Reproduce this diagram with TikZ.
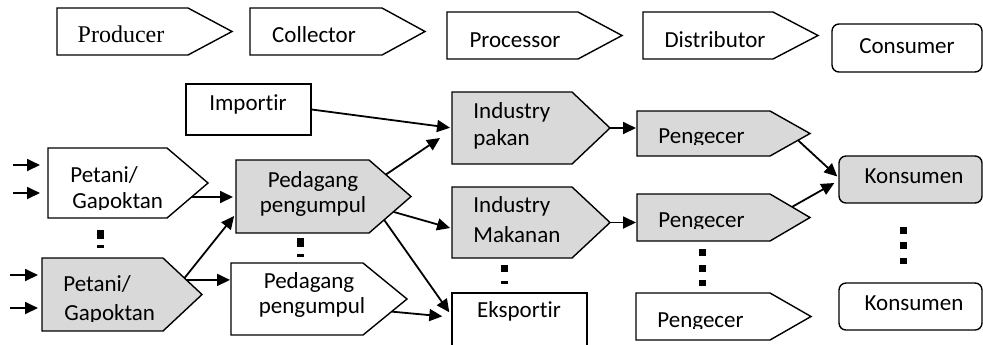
\documentclass[tikz,border=0pt]{standalone}
\usepackage{fontspec}
\setmainfont{Carlito}[Ligatures=NoCommon]
\newfontfamily\serifp{Liberation Serif}
\usetikzlibrary{arrows.meta,calc,fit}
\definecolor{boxgray}{HTML}{D9D9D9}
\tikzset{
  boxline/.style={draw=black, line width=0.7pt},
  graybox/.style={boxline, fill=boxgray},
  whitebox/.style={boxline, fill=white},
  body/.style={inner sep=0pt, outer sep=0pt, draw=none},
  lbl/.style={inner sep=0pt, font=\fontsize{11.5}{13}\selectfont, text=black},
  arr/.style={line width=0.9pt, -{Triangle[length=6.5pt,width=6pt]}},
  dotsq/.style={fill=black},
}
% pentagon (arrow-shaped) box: name, left, top, shoulder, tip, bottom, style
\newcommand\pentbox[7]{%
  \node[body, fit={(#2,#3) (#4,#6)}] (#1) {};
  \coordinate (#1-tip) at (#5,{(#3+#6)/2});
  \draw[#7] (#1.north west) -- (#1.north east) -- (#1-tip) -- (#1.south east) -- (#1.south west) -- cycle;
}
% text line cut just below its baseline: name, x, baseline y, text
\newcommand\cuttext[4]{%
  \begin{scope}
    \clip ({#2-4},{#3-30}) rectangle ({#2+160},{#3+1.5});
    \node[lbl, anchor=base west] (#1) at (#2,#3) {#4};
  \end{scope}
}
\begin{document}
\begin{tikzpicture}[x=0.5pt,y=-0.5pt]
\clip (0,0) rectangle (983,344);
\fill[white] (0,0) rectangle (983,344);

% ---- top row ----
\pentbox{prod}{57}{8}{188}{232}{55}{whitebox}
\node[lbl, font=\serifp\fontsize{12}{14}\selectfont, anchor=base] (prod-t) at (121,42) {Producer};
\pentbox{coll}{250}{8}{382}{425}{55}{whitebox}
\node[lbl, anchor=base] (coll-t) at (314,42) {Collector};
\pentbox{proc}{447}{12}{578}{622}{59}{whitebox}
\node[lbl, anchor=base] (proc-t) at (515,47) {Processor};
\pentbox{dist}{643}{12}{773}{818}{59}{whitebox}
\node[lbl, anchor=base] (dist-t) at (715,47) {Distributor};
\node[whitebox, rounded corners=3.5pt, inner sep=0pt, fit={(832,24) (982,72)}] (cons) {};
\node[lbl, anchor=base] (cons-t) at (907,53) {Consumer};

% ---- boxes ----
\node[whitebox, inner sep=0pt, fit={(186,84) (311,135)}] (imp) {};
\node[lbl, anchor=base] (imp-t) at (248,110) {Importir};

\pentbox{pet1}{48}{148}{167}{208}{218}{whitebox}
\node[lbl, anchor=base west] (pet1-t) at (70,182) {Petani/};
\cuttext{pet1-u}{72}{208}{Gapoktan}

\pentbox{pet2}{42}{258}{163}{202}{331}{graybox}
\node[lbl, anchor=base west] (pet2-t) at (63,291) {Petani/};
\cuttext{pet2-u}{64}{320}{Gapoktan}

\pentbox{ped1}{236}{160}{369}{411}{233}{graybox}
\node[lbl, anchor=base] (ped1-t) at (313,187) {Pedagang};
\node[lbl, anchor=base] (ped1-u) at (313,212) {pengumpul};

\pentbox{ped2}{231}{263}{363}{407}{335}{whitebox}
\node[lbl, anchor=base] (ped2-t) at (309,288) {Pedagang};
\node[lbl, anchor=base] (ped2-u) at (312,313) {pengumpul};

\pentbox{indp}{452}{92}{572}{610}{164}{graybox}
\node[lbl, anchor=base west] (indp-t) at (473,118) {Industry};
\node[lbl, anchor=base west] (indp-u) at (473,145) {pakan};

\pentbox{indm}{452}{187}{572}{610}{258}{graybox}
\node[lbl, anchor=base west] (indm-t) at (473,212) {Industry};
\node[lbl, anchor=base west] (indm-u) at (473,242) {Makanan};

\node[whitebox, inner sep=0pt, fit={(452,293) (587,360)}] (eks) {};
\node[lbl, anchor=base] (eks-t) at (519,317) {Eksportir};

\pentbox{peng1}{637}{111}{770}{810}{156}{graybox}
\cuttext{peng1-t}{658}{143}{Pengecer}
\pentbox{peng2}{637}{194}{770}{810}{241}{graybox}
\cuttext{peng2-t}{658}{227}{Pengecer}
\pentbox{peng3}{636}{293}{770}{811}{340}{whitebox}
\cuttext{peng3-t}{657}{327}{Pengecer}

\node[graybox, rounded corners=3.5pt, inner sep=0pt, fit={(839,156) (982,203)}] (kons1) {};
\node[lbl, anchor=base] (kons1-t) at (914,183) {Konsumen};
\node[whitebox, rounded corners=3.5pt, inner sep=0pt, fit={(839,283) (982,330)}] (kons2) {};
\node[lbl, anchor=base] (kons2-t) at (914,310) {Konsumen};

% ---- vertical dots ----
\fill[dotsq] (97,230) rectangle (104,239);
\fill[dotsq] (97,245) rectangle (104,248);
\fill[dotsq] (297,238) rectangle (304,247);
\fill[dotsq] (297,254) rectangle (304,257);
\fill[dotsq] (501,265) rectangle (508,272);
\fill[dotsq] (501,281) rectangle (508,284);
\fill[dotsq] (699,249) rectangle (706,256);
\fill[dotsq] (699,265) rectangle (706,272);
\fill[dotsq] (699,280) rectangle (706,286);
\fill[dotsq] (900,227) rectangle (907,234);
\fill[dotsq] (900,242) rectangle (907,249);
\fill[dotsq] (900,258) rectangle (907,264);

% ---- connectors ----
\coordinate (in1) at (13,165);
\coordinate (in2) at (13,193);
\coordinate (in3) at (10,275);
\coordinate (in4) at (10,308);
\draw[arr, shorten >=4pt] (in1) -- (in1 -| pet1.west);
\draw[arr, shorten >=4pt] (in2) -- (in2 -| pet1.west);
\draw[arr, shorten >=2pt] (in3) -- (in3 -| pet2.west);
\draw[arr, shorten >=2pt] (in4) -- (in4 -| pet2.west);

\coordinate (sA) at ($(pet1-tip)!0.4!(pet1.south east)$);
\draw[arr, shorten >=1.5pt] (sA) -- (sA -| ped1.west);
\draw[arr, shorten >=1.5pt] ($(pet2.north east)!0.55!(pet2-tip)$) -- ($(ped1.west)!0.47!(ped1.south west)$);
\coordinate (sC) at ($(pet2.north east)!0.6!(pet2-tip)$);
\draw[arr, shorten >=0.5pt] (sC) -- (sC -| ped2.west);

\draw[arr, shorten >=1pt] (imp.east) -- (indp.west);
\draw[arr] ($(ped1.north east)!0.4!(ped1-tip)$) -- ($(indp.west)+(-12,10)$);
\draw[arr, shorten >=1pt] ($(ped1-tip)!0.42!(ped1.south east)$) -- ($(indm.west)!0.17!(indm.south west)$);
\draw[arr] ($(ped1-tip)!0.64!(ped1.south east)$) -- ($(eks.north west)+(-2,20)$);
\draw[arr] ($(ped2-tip)!0.35!(ped2.south east)$) -- ($(eks.north west)+(-9,24)$);

\draw[arr, shorten >=0.5pt] (indp-tip) -- (indp-tip -| peng1.west);
\draw[arr, shorten >=0.5pt] (indm-tip) -- (indm-tip -| peng2.west);
\draw[arr] ($(peng1-tip)!0.3!(peng1.south east)$) -- ($(kons1.west)+(-1,-3)$);
\draw[arr] ($(peng2.north east)!0.55!(peng2-tip)$) -- ($(kons1.west)+(-4,3.5)$);
\end{tikzpicture}
\end{document}
